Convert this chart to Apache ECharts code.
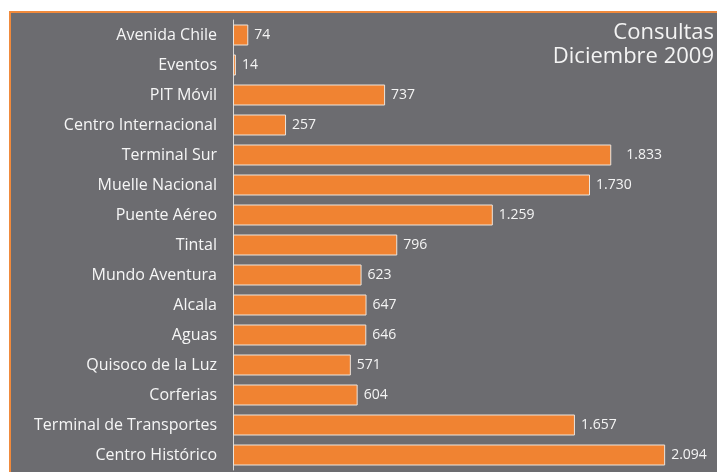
<!DOCTYPE html>
<html>
<head>
<meta charset="utf-8">
<script src="https://cdn.jsdelivr.net/npm/echarts@6/dist/echarts.min.js"></script>
<style>
  html, body { margin: 0; padding: 0; background: #ffffff; }
  #panel {
    position: absolute;
    left: 9px;
    top: 11px;
    width: 710px;
    height: 470px;
    background: #6c6c70;
    border-left: 2px solid #f08a3c;
    border-top: 2px solid #f08a3c;
  }
  #myChart {
    position: absolute;
    left: 0;
    top: 0;
    width: 717px;
    height: 472px;
  }
</style>
</head>
<body>
<div id="panel"></div>
<div id="myChart"></div>
<script>
  var categories = [
    'Avenida Chile', 'Eventos', 'PIT Móvil', 'Centro Internacional', 'Terminal Sur',
    'Muelle Nacional', 'Puente Aéreo', 'Tintal', 'Mundo Aventura', 'Alcala',
    'Aguas', 'Quisoco de la Luz', 'Corferias', 'Terminal de Transportes', 'Centro Histórico'
  ]
  var consultas = [74, 14, 737, 257, 1833, 1730, 1259, 796, 623, 647, 646, 571, 604, 1657, 2094]
  var titleLines = ['Consultas', 'Diciembre 2009']

  // 1833 -> 1.833
  function fmt (v) {
    return String(v).replace(/\B(?=(\d{3})+(?!\d))/g, '.')
  }

  var myChart = echarts.init(document.getElementById('myChart'))
  myChart.setOption({
    textStyle: { fontFamily: 'Open Sans' },
    graphic: titleLines.map(function (line, i) {
      return {
        type: 'text',
        right: 3,
        top: 22 + i * 24,
        style: {
          text: line,
          fill: '#f4f4f4',
          fontSize: 22,
          fontFamily: 'Open Sans'
        }
      }
    }),
    grid: {
      left: 233,
      right: 30,
      top: 20,
      bottom: 2,
      containLabel: false
    },
    xAxis: {
      type: 'value',
      min: 0,
      max: 2200,
      show: false
    },
    yAxis: {
      type: 'category',
      data: categories,
      inverse: true,
      axisLine: { lineStyle: { color: '#d8d8d8', width: 1 } },
      axisTick: { length: 15, lineStyle: { color: '#d8d8d8' } },
      axisLabel: {
        color: '#f6f6f6',
        fontSize: 16,
        margin: 16
      }
    },
    series: [
      {
        type: 'bar',
        data: consultas.map(function (v, i) {
          if (i === 4) return { value: v, label: { distance: 15 } }
          return v
        }),
        barCategoryGap: '30%',
        itemStyle: {
          color: '#f08332',
          borderColor: '#ece4dc',
          borderWidth: 1
        },
        label: {
          show: true,
          position: 'right',
          distance: 6,
          color: '#f4f4f4',
          fontSize: 14,
          formatter: function (p) { return fmt(p.value) }
        }
      }
    ]
  })
</script>
</body>
</html>
